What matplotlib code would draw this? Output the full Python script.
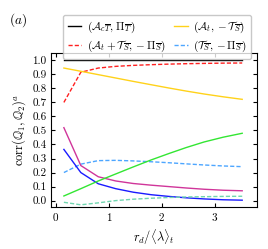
import matplotlib
matplotlib.use("Agg")
import matplotlib.pyplot as plt

plt.rcParams['font.family'] = 'serif'
plt.rcParams['font.serif'] = ['cmr10', 'DejaVu Serif']
plt.rcParams['mathtext.fontset'] = 'cm'
plt.rcParams['axes.formatter.use_mathtext'] = True
plt.rcParams['font.size'] = 8

# x grid (r_d / <lambda>_t)
x = [0.15, 0.47, 0.8, 1.13, 1.46, 1.8, 2.13, 2.46, 2.8, 3.16, 3.52]

# series values
black = [1.0, 1.0, 1.0, 1.0, 1.0, 1.0, 1.0, 1.0, 1.0, 1.0, 1.0]
red = [0.70, 0.915, 0.945, 0.957, 0.964, 0.969, 0.973, 0.976, 0.978, 0.980, 0.981]
gold = [0.945, 0.922, 0.898, 0.874, 0.850, 0.826, 0.803, 0.781, 0.760, 0.740, 0.722]
lblue = [0.20, 0.26, 0.285, 0.287, 0.283, 0.277, 0.270, 0.262, 0.254, 0.247, 0.242]
magenta = [0.52, 0.25, 0.17, 0.14, 0.122, 0.110, 0.100, 0.090, 0.081, 0.074, 0.070]
blue = [0.365, 0.20, 0.12, 0.085, 0.060, 0.042, 0.030, 0.020, 0.012, 0.006, 0.003]
green = [0.033, 0.085, 0.14, 0.19, 0.24, 0.29, 0.335, 0.378, 0.418, 0.452, 0.48]
teal = [-0.012, -0.03, -0.016, 0.0, 0.010, 0.017, 0.022, 0.026, 0.028, 0.030, 0.031]

labels = [r'$(\mathcal{A}_{c\overline{T}},\,\mathit{\Pi}_{\overline{T}})$',
          r'$(\mathcal{A}_t+\mathcal{T}_{\overline{S}},-\mathit{\Pi}_{\overline{S}})$',
          r'$(\mathcal{A}_t,-\mathcal{T}_{\overline{S}})$',
          r'$(\mathcal{T}_{\overline{S}},-\mathit{\Pi}_{\overline{S}})$']

fig = plt.figure(figsize=(2.68, 2.49), dpi=100)
ax = fig.add_axes([0.189, 0.169, 0.770, 0.618])

l1, = ax.plot(x, black, color='black', lw=1.0)
l2, = ax.plot(x, red, color='#ff2020', lw=1.0, ls=(0, (3, 1.5)))
l3, = ax.plot(x, gold, color='#ffd21a', lw=1.0)
l4, = ax.plot(x, lblue, color='#4da6ff', lw=1.0, ls=(0, (3, 1.5)))
ax.plot(x, magenta, color='#d0359a', lw=1.0)
ax.plot(x, blue, color='#1a1aff', lw=1.0)
ax.plot(x, green, color='#33e633', lw=1.0)
ax.plot(x, teal, color='#70d6b0', lw=1.0, ls=(0, (3, 1.5)))

ax.set_xlim(-0.1, 3.8)
ax.set_ylim(-0.045, 1.052)
ax.set_xticks([0, 1, 2, 3])
ax.set_yticks([i / 10 for i in range(11)])
ax.set_yticklabels(['%.1f' % (i / 10) for i in range(11)])
ax.tick_params(direction='in', top=True, right=True, length=3, width=0.8, pad=3)
ax.set_xlabel(r'$r_d/\langle\lambda\rangle_t$', fontsize=9, labelpad=3)
ax.set_ylabel(r'$\mathrm{corr}(\mathbb{Q}_1,\mathbb{Q}_2)^a$', fontsize=9, labelpad=3)

fig.legend([l1, l2, l3, l4], [labels[0], labels[1], labels[2], labels[3]],
           ncol=2, loc='upper left', bbox_to_anchor=(0.215, 0.962), fontsize=8,
           handlelength=1.2, handletextpad=0.5, columnspacing=0.8,
           labelspacing=0.4, borderpad=0.4, edgecolor='#bbbbbb', fancybox=True)
fig.text(0.035, 0.905, r'$(a)$', fontsize=9.5)

fig.savefig('out.png', dpi=100)
